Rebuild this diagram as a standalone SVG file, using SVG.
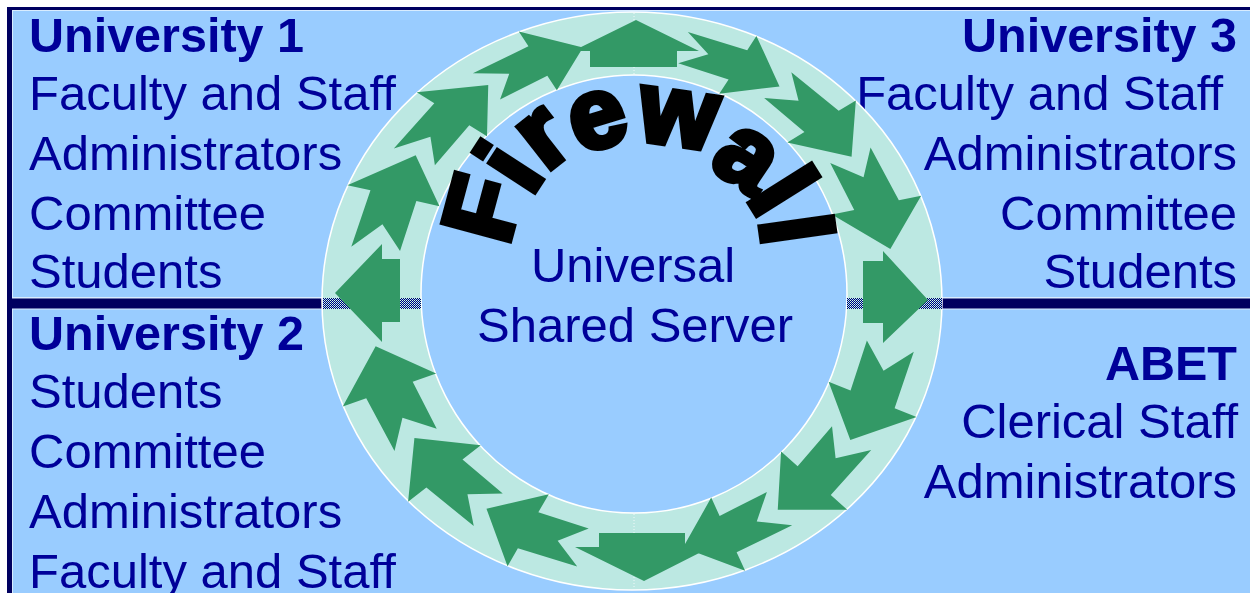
<svg xmlns="http://www.w3.org/2000/svg" width="1250" height="593" viewBox="0 0 1250 593">
<defs>
<pattern id="hatch" width="2" height="2" patternUnits="userSpaceOnUse">
<rect width="2" height="2" fill="#000066"/>
<rect width="1" height="1" fill="#CCFFEE"/>
<rect x="1" y="1" width="1" height="1" fill="#99CCFF"/>
</pattern>
<style>
.t{font-family:"Liberation Sans",Arial,sans-serif;font-size:49px;fill:#000099}
.b{font-weight:bold;font-size:48.5px}
.e{text-anchor:end}
.m{text-anchor:middle}
.arr{fill:#339966}
.fw{font-family:"Liberation Sans",Arial,sans-serif;font-weight:bold;font-size:100px;fill:#000;stroke:#000;stroke-width:6;stroke-linejoin:miter;text-anchor:middle}
</style>
</defs>
<rect width="1250" height="593" fill="#fff"/>
<rect x="7" y="7" width="1243" height="586" fill="#000060"/>
<rect x="12.5" y="10.5" width="1240" height="586" fill="#99CCFF" stroke="#D8ECFF" stroke-width="1"/>
<rect x="12" y="297" width="311" height="12.5" fill="#D8ECFF"/>
<rect x="12" y="298.5" width="311" height="10" fill="#000060"/>
<rect x="941" y="297" width="309" height="12.5" fill="#D8ECFF"/>
<rect x="941" y="298.5" width="309" height="10" fill="#000060"/>

<g id="panel-university-1">
<text class="t b" x="29" y="52">University 1</text>
<text class="t" x="29" y="110">Faculty and Staff</text>
<text class="t" x="29" y="170">Administrators</text>
<text class="t" x="29" y="230">Committee</text>
<text class="t" x="29" y="288">Students</text>
</g>
<g id="panel-university-2">
<text class="t b" x="29" y="350">University 2</text>
<text class="t" x="29" y="408">Students</text>
<text class="t" x="29" y="468">Committee</text>
<text class="t" x="29" y="528">Administrators</text>
<text class="t" x="29" y="588">Faculty and Staff</text>
</g>
<g id="panel-university-3">
<text class="t b e" x="1237" y="52">University 3</text>
<text class="t e" x="1223" y="110">Faculty and Staff</text>
<text class="t e" x="1237" y="170">Administrators</text>
<text class="t e" x="1237" y="230">Committee</text>
<text class="t e" x="1237" y="288">Students</text>
</g>
<g id="panel-abet">
<text class="t b e" x="1237" y="380">ABET</text>
<text class="t e" x="1238" y="438">Clerical Staff</text>
<text class="t e" x="1237" y="498">Administrators</text>
</g>

<g id="firewall-ring">
<path d="M322,301 A310,289 0 1,0 942,301 A310,289 0 1,0 322,301 Z M421,294 A213,219 0 1,1 847,294 A213,219 0 1,1 421,294 Z" fill="#BCE8E2" fill-rule="evenodd" stroke="#fff" stroke-width="1.5"/>
<rect x="323" y="298" width="98" height="11" fill="url(#hatch)"/>
<rect x="847" y="298" width="95" height="11" fill="url(#hatch)"/>
<path d="M634,13 V74 M634,514 V589" stroke="#fff" stroke-width="1" stroke-dasharray="1 2" opacity="0.8"/>
</g>

<g id="arrows">
<polygon class="arr" points="590,67 590,51 573,51 636,20 699,51 677,51 677,67"/>
<polygon class="arr" points="863,261 883,261 883,251 928,300 883,343 883,323 863,323"/>
<polygon class="arr" points="599,533 685,533 685,547 711,547 644,581 575,547 599,547"/>
<polygon class="arr" points="400,259 400,322 382,322 382,342 335,293 382,244 382,259"/>
<polygon class="arr" transform="matrix(1.15,0,0,1.15,-110,-9.4)" points="685.4,63.1 729.2,77.2 721.1,89.7 773.5,83.3 753.4,39.4 745.4,51.9 693.8,36 711.6,55.3"/>
<polygon class="arr" transform="matrix(1.15,0,0,1.15,-122.7,-17.7)" points="771.2,100.5 806.2,130.2 791.3,139.3 847.2,151.8 850.9,102.7 836,111.8 794.8,78.3 801.1,102.9"/>
<polygon class="arr" transform="matrix(1.15,0,0,1.15,-131.2,-30)" points="836,167.8 856.9,208.6 837.5,212.6 888.3,242.5 915.1,196.2 895.7,200.3 871.1,154.3 865,180.2"/>
<polygon class="arr" transform="matrix(1.15,0,0,1.15,-131.2,-59.2)" points="867.9,347.6 853.7,391.1 834.6,383.4 853.5,434 911.1,414.1 892,406.4 908.7,357.3 882.4,373.9"/>
<polygon class="arr" transform="matrix(1.15,0,0,1.15,-122.7,-71.6)" points="830.2,432.9 800.3,467.6 785.9,454.9 783,505.6 843.4,505.5 829.1,492.8 864.3,453.5 833.3,460.8"/>
<polygon class="arr" transform="matrix(1.15,0,0,1.15,-110,-79.8)" points="762.5,497.2 721.4,518 714.1,502.1 689.6,545.5 743.6,565.6 736.2,549.6 784.5,526.2 753.7,522.8"/>
<polygon class="arr" transform="matrix(1.15,0,0,1.15,-79.9,-79.8)" points="581.4,528.9 537.6,514.8 546.7,499.1 492.5,511.7 510.8,561.8 519.8,546.1 571.4,562 554.4,539.7"/>
<polygon class="arr" transform="matrix(1.15,0,0,1.15,-67.2,-71.6)" points="495.6,491.5 460.6,461.8 476.5,449.5 418.8,443.2 413.3,498.5 429.2,486.2 470.4,519.7 464.9,492.1"/>
<polygon class="arr" transform="matrix(1.15,0,0,1.15,-58.7,-59.2)" points="430.8,424.2 409.9,383.4 430.3,376.2 377.7,352.5 349.1,405 369.5,397.7 394.1,443.7 401,414.8"/>
<polygon class="arr" transform="matrix(1.15,0,0,1.15,-58.7,-30)" points="398.9,244.4 413.1,200.9 433.2,205.4 412.5,161 353.1,187.1 373.2,191.6 356.5,240.7 383.6,221.1"/>
<polygon class="arr" transform="matrix(1.15,0,0,1.15,-67.2,-17.7)" points="436.6,159.1 466.5,124.4 481.9,133.9 483,89.4 420.8,95.7 436.1,105.2 400.9,144.5 432.7,134.2"/>
<polygon class="arr" transform="matrix(1.15,0,0,1.15,-79.9,-9.4)" points="504.3,94.8 545.4,74 553.7,86.7 576.4,49.5 520.6,35.6 529,48.4 480.7,71.8 512.3,72.2"/>
</g>

<g id="firewall-label">
<text class="fw" transform="translate(481,208) rotate(-75)" y="36">F</text>
<text class="fw" transform="translate(508,166) rotate(-57)" y="36">i</text>
<text class="fw" transform="translate(545,140) rotate(-38)" y="26">r</text>
<text class="fw" transform="translate(598,121) rotate(-17)" y="26">e</text>
<text class="fw" transform="translate(678,119) rotate(8)" y="26">w</text>
<text class="fw" transform="translate(745,160) rotate(34)" y="26">a</text>
<text class="fw" transform="translate(784,190) rotate(58)" y="36">l</text>
<text class="fw" transform="translate(797,229) rotate(82)" y="36">l</text>
</g>

<g id="server">
<text class="t m" x="633" y="282">Universal</text>
<text class="t m" x="635" y="342">Shared Server</text>
</g>
</svg>
